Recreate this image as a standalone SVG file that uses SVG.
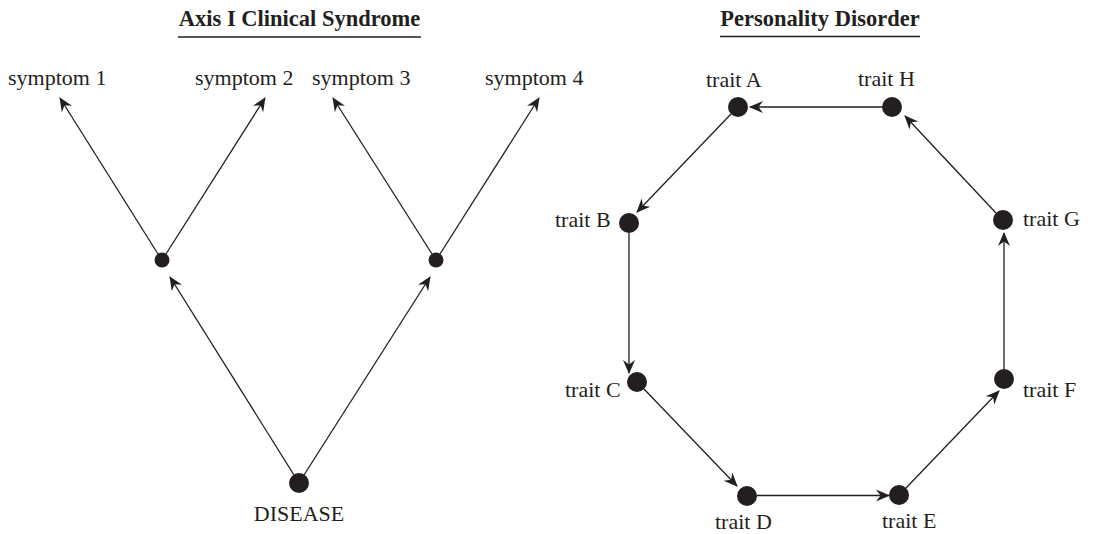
<svg xmlns="http://www.w3.org/2000/svg" width="1093" height="534" viewBox="0 0 1093 534">
<defs>
<style>
text{font-family:"Liberation Serif","Times New Roman",serif;font-size:22px;fill:#231f20}
.title{font-weight:bold;text-anchor:middle;font-size:22.5px}
.mid{text-anchor:middle}
.dot{fill:#231f20}
.edge{stroke:#231f20;stroke-width:1.3;fill:none;marker-end:url(#arr)}
.rule{stroke:#231f20;stroke-width:1.5}
</style>
<marker id="arr" markerUnits="userSpaceOnUse" markerWidth="16" markerHeight="14" viewBox="-14 -7 16 14" refX="0" refY="0" orient="auto">
<path d="M1,0 L-13,-6 L-8.5,0 L-13,6 Z" fill="#231f20"/>
</marker>
</defs>
<rect width="1093" height="534" fill="#fff"/>
<g id="title-axis">
<text class="title" x="299.5" y="26">Axis I Clinical Syndrome</text>
<line class="rule" x1="178" y1="37" x2="421" y2="37"/>
</g>
<g id="title-pd">
<text class="title" x="820" y="26">Personality Disorder</text>
<line class="rule" x1="720" y1="36.5" x2="920" y2="36.5"/>
</g>
<g id="connectors">
<line class="edge" x1="158" y1="254" x2="60" y2="98"/>
<line class="edge" x1="166" y1="254" x2="265" y2="98"/>
<line class="edge" x1="432" y1="254" x2="333" y2="98"/>
<line class="edge" x1="440" y1="254" x2="539" y2="98"/>
<line class="edge" x1="294" y1="475" x2="170" y2="277"/>
<line class="edge" x1="304" y1="475" x2="430" y2="277"/>
<line class="edge" x1="882" y1="107" x2="750" y2="107"/>
<line class="edge" x1="731" y1="114" x2="637" y2="212"/>
<line class="edge" x1="629" y1="233" x2="629" y2="373"/>
<line class="edge" x1="644" y1="389" x2="737" y2="486"/>
<line class="edge" x1="757" y1="495.5" x2="889" y2="495.5"/>
<line class="edge" x1="906" y1="488" x2="999" y2="391"/>
<line class="edge" x1="1004" y1="369" x2="1004" y2="233"/>
<line class="edge" x1="996" y1="213" x2="905" y2="116"/>
</g>
<g id="symptom1"><text x="8" y="85">symptom 1</text></g>
<g id="symptom2"><text x="195" y="85">symptom 2</text></g>
<g id="symptom3"><text x="312" y="85">symptom 3</text></g>
<g id="symptom4"><text x="485" y="85">symptom 4</text></g>
<g id="mid-left"><circle class="dot" cx="162" cy="260" r="7.5"/></g>
<g id="mid-right"><circle class="dot" cx="436" cy="260" r="7.5"/></g>
<g id="disease"><circle class="dot" cx="299" cy="483" r="10"/><text class="mid" x="299" y="521">DISEASE</text></g>
<g id="traitA"><circle class="dot" cx="738" cy="107" r="10"/><text x="706" y="87">trait A</text></g>
<g id="traitH"><circle class="dot" cx="892" cy="107" r="10"/><text x="858" y="86">trait H</text></g>
<g id="traitB"><circle class="dot" cx="629" cy="223" r="10"/><text x="555" y="227">trait B</text></g>
<g id="traitG"><circle class="dot" cx="1003" cy="220" r="10"/><text x="1023" y="226">trait G</text></g>
<g id="traitC"><circle class="dot" cx="637" cy="382" r="10"/><text x="565" y="397">trait C</text></g>
<g id="traitF"><circle class="dot" cx="1004" cy="379" r="10"/><text x="1023" y="397">trait F</text></g>
<g id="traitD"><circle class="dot" cx="747" cy="496" r="10"/><text x="715" y="529">trait D</text></g>
<g id="traitE"><circle class="dot" cx="899" cy="495" r="10"/><text x="882" y="528">trait E</text></g>
</svg>
